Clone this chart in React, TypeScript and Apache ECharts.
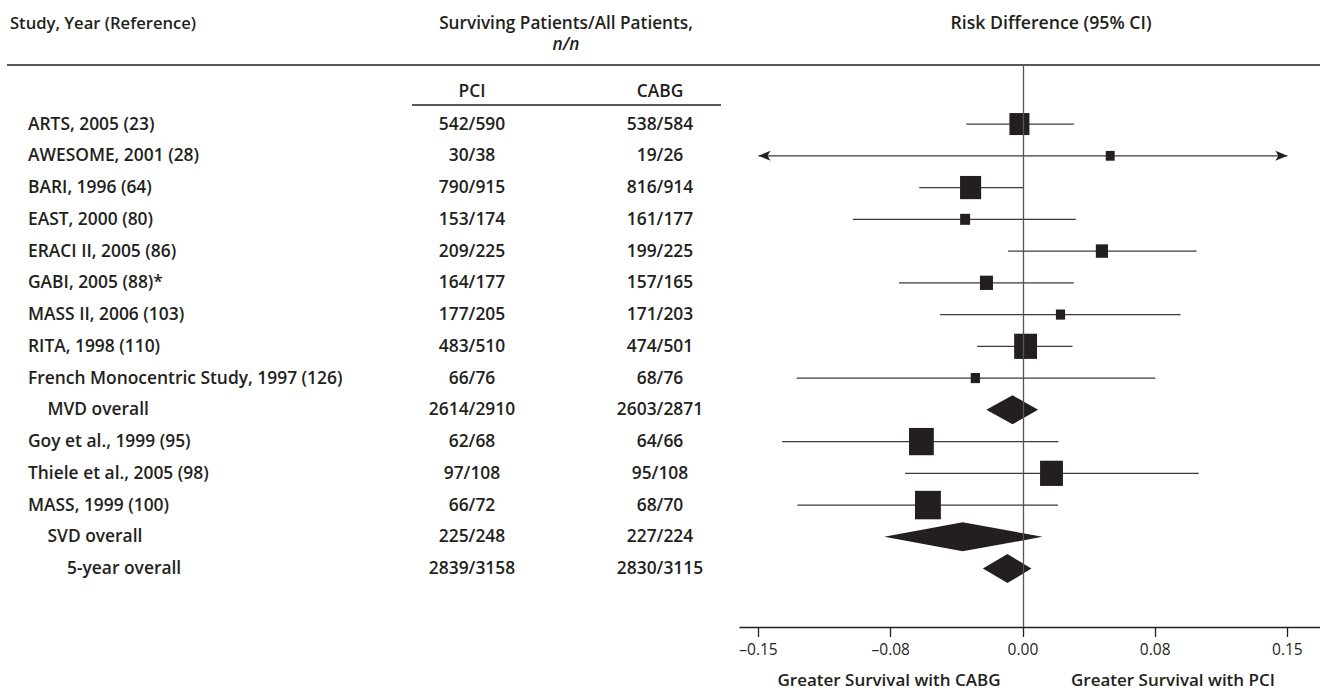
import React, { useEffect, useRef } from "react";
import * as echarts from "echarts";

// ---------- data ----------
const studies = [
  "ARTS, 2005 (23)",
  "AWESOME, 2001 (28)",
  "BARI, 1996 (64)",
  "EAST, 2000 (80)",
  "ERACI II, 2005 (86)",
  "GABI, 2005 (88)*",
  "MASS II, 2006 (103)",
  "RITA, 1998 (110)",
  "French Monocentric Study, 1997 (126)",
  "MVD overall",
  "Goy et al., 1999 (95)",
  "Thiele et al., 2005 (98)",
  "MASS, 1999 (100)",
  "SVD overall",
  "5-year overall",
];
const indentLevel = [0, 0, 0, 0, 0, 0, 0, 0, 0, 1, 0, 0, 0, 1, 2];
const rowKind = ["study", "study", "study", "study", "study", "study", "study", "study", "study", "summary", "study", "study", "study", "summary", "summary"];
const pciCounts = ["542/590", "30/38", "790/915", "153/174", "209/225", "164/177", "177/205", "483/510", "66/76", "2614/2910", "62/68", "97/108", "66/72", "225/248", "2839/3158"];
const cabgCounts = ["538/584", "19/26", "816/914", "161/177", "199/225", "157/165", "171/203", "474/501", "68/76", "2603/2871", "64/66", "95/108", "68/70", "227/224", "2830/3115"];
const estimate = [-0.002, 0.0495, -0.0297, -0.0328, 0.0448, -0.0207, 0.0213, 0.0015, -0.027, -0.0059, -0.0576, 0.0162, -0.0539, -0.0342, -0.0088];
const lower = [-0.0321, -0.156, -0.0588, -0.0965, -0.0084, -0.0703, -0.047, -0.026, -0.1284, -0.0208, -0.1366, -0.0669, -0.128, -0.0787, -0.0227];
const upper = [0.0288, 0.272, 0.0, 0.03, 0.0984, 0.0288, 0.0894, 0.0281, 0.0751, 0.0086, 0.0201, 0.0997, 0.0199, 0.0111, 0.0048];
const weights = [20, 8.9, 21.1, 10, 12.2, 13, 9.2, 22.9, 9.2, 0, 24.8, 22.9, 25.9, 0, 0];
const tickValues = [-0.15, -0.075, 0, 0.075, 0.15];
const tickLabels = ["\u20130.15", "\u20130.08", "0.00", "0.08", "0.15"];

// ---------- style ----------
const INK = "#231f20";
const FONT = '"Open Sans", "Noto Sans", sans-serif';
const ROW_FONT = `600 17.4px ${FONT}`;
const PLOT_LIMIT = 0.15;
const BOX_SCALE = 1;
const BOX_ASPECT = 1.1;
const DIAMOND_H = 29;

const headText = (text: string, x: number, y: number, size: number, align = "center", italic = false) => ({
  type: "text",
  x,
  y,
  style: {
    text,
    font: `${italic ? "italic " : ""}600 ${size}px ${FONT}`,
    fill: INK,
    textAlign: align,
    textVerticalAlign: "middle",
  },
});

export default function App() {
  const ref = useRef<HTMLDivElement>(null);

  useEffect(() => {
    if (!ref.current) return;
    const chart = echarts.init(ref.current, undefined, { renderer: "svg" });

    const forestData = studies.map((_, i) => [
      i,
      estimate[i],
      lower[i],
      upper[i],
      weights[i],
      rowKind[i] === "summary" ? 1 : 0,
    ]);
    const tableData = studies.map((_, i) => [0, i]);

    const option: any = {
      animation: false,
      grid: { left: 740, right: 0, top: 65, bottom: 64, containLabel: false },
      xAxis: {
        type: "value",
        min: -0.1605,
        max: 0.1685,
        splitLine: { show: false },
        axisLine: { show: true, onZero: false, lineStyle: { color: INK, width: 1.3 } },
        axisTick: {
          show: true,
          customValues: tickValues,
          length: 10,
          lineStyle: { color: INK, width: 1.3 },
        },
        axisLabel: {
          show: true,
          customValues: tickValues,
          margin: 14,
          color: INK,
          fontSize: 15.5,
          fontFamily: FONT,
          formatter: (v: number) => {
            const k = tickValues.findIndex((t) => Math.abs(t - v) < 1e-9);
            return k >= 0 ? tickLabels[k] : "";
          },
        },
      },
      yAxis: {
        type: "value",
        inverse: true,
        min: -1.86,
        max: 15.84,
        show: false,
      },
      series: [
        {
          type: "custom",
          name: "forest",
          data: forestData,
          encode: { x: [1, 2, 3], y: 0 },
          clip: false,
          renderItem: (params: any, api: any) => {
            const row = api.value(0);
            const est = api.value(1);
            const lo = api.value(2);
            const hi = api.value(3);
            const w = api.value(4);
            const summary = api.value(5) === 1;
            const children: any[] = [];
            if (summary) {
              const pl = api.coord([lo, row]);
              const pe = api.coord([est, row]);
              const ph = api.coord([hi, row]);
              children.push({
                type: "polygon",
                shape: {
                  points: [
                    [pl[0], pl[1]],
                    [pe[0], pe[1] - DIAMOND_H / 2],
                    [ph[0], ph[1]],
                    [pe[0], pe[1] + DIAMOND_H / 2],
                  ],
                },
                style: { fill: INK },
              });
            } else {
              const cl = Math.max(lo, -PLOT_LIMIT);
              const ch = Math.min(hi, PLOT_LIMIT);
              const a = api.coord([cl, row]);
              const b = api.coord([ch, row]);
              children.push({
                type: "line",
                shape: { x1: a[0], y1: a[1], x2: b[0], y2: b[1] },
                style: { stroke: "#3b3b3b", lineWidth: 1.3 },
              });
              if (lo < -PLOT_LIMIT) {
                children.push({
                  type: "polygon",
                  shape: {
                    points: [
                      [a[0], a[1]],
                      [a[0] + 12, a[1] - 5],
                      [a[0] + 9, a[1]],
                      [a[0] + 12, a[1] + 5],
                    ],
                  },
                  style: { fill: INK },
                });
              }
              if (hi > PLOT_LIMIT) {
                children.push({
                  type: "polygon",
                  shape: {
                    points: [
                      [b[0], b[1]],
                      [b[0] - 12, b[1] - 5],
                      [b[0] - 9, b[1]],
                      [b[0] - 12, b[1] + 5],
                    ],
                  },
                  style: { fill: INK },
                });
              }
              const c = api.coord([est, row]);
              const bw = w * BOX_SCALE;
              const bh = bw * BOX_ASPECT;
              children.push({
                type: "rect",
                shape: { x: c[0] - bw / 2, y: c[1] - bh / 2, width: bw, height: bh },
                style: { fill: INK },
              });
            }
            return { type: "group", children };
          },
          markLine: {
            silent: true,
            symbol: ["none", "none"],
            label: { show: false },
            lineStyle: { color: "#555555", width: 1.3, type: "solid" },
            data: [{ xAxis: 0 }],
          },
          z: 3,
        },
        {
          type: "custom",
          name: "table",
          data: tableData,
          encode: { y: 1 },
          clip: false,
          renderItem: (params: any, api: any) => {
            const i = params.dataIndex;
            const y = api.coord([0, api.value(1)])[1] - 1.5;
            const cell = (text: string, x: number, align: string) => ({
              type: "text",
              style: {
                text,
                x,
                y,
                font: ROW_FONT,
                fill: INK,
                textAlign: align,
                textVerticalAlign: "middle",
              },
            });
            return {
              type: "group",
              children: [
                cell(studies[i], 28 + indentLevel[i] * 19.5, "left"),
                cell(pciCounts[i], 472, "center"),
                cell(cabgCounts[i], 660, "center"),
              ],
            };
          },
        },
      ],
      graphic: [
        headText("Study, Year (Reference)", 10, 22, 16.6, "left"),
        headText("Surviving Patients/All Patients,", 566, 22, 17.2),
        headText("n/n", 566, 43, 17.2, "center", true),
        headText("Risk Difference (95% CI)", 1051, 22, 17.7),
        {
          type: "line",
          shape: { x1: 7, y1: 65, x2: 1320, y2: 65 },
          style: { stroke: INK, lineWidth: 1.3 },
        },
        headText("PCI", 472, 90, 17.4),
        headText("CABG", 660, 90, 17.4),
        {
          type: "line",
          shape: { x1: 412, y1: 105, x2: 721, y2: 105 },
          style: { stroke: INK, lineWidth: 1.3 },
        },
        headText("Greater Survival with CABG", 889, 679, 17),
        headText("Greater Survival with PCI", 1173, 679, 17),
      ],
    };

    chart.setOption(option);
    return () => chart.dispose();
  }, []);

  return (
    <div
      ref={ref}
      style={{ position: "fixed", left: 0, top: 0, width: 1320, height: 691, background: "#ffffff" }}
    />
  );
}
